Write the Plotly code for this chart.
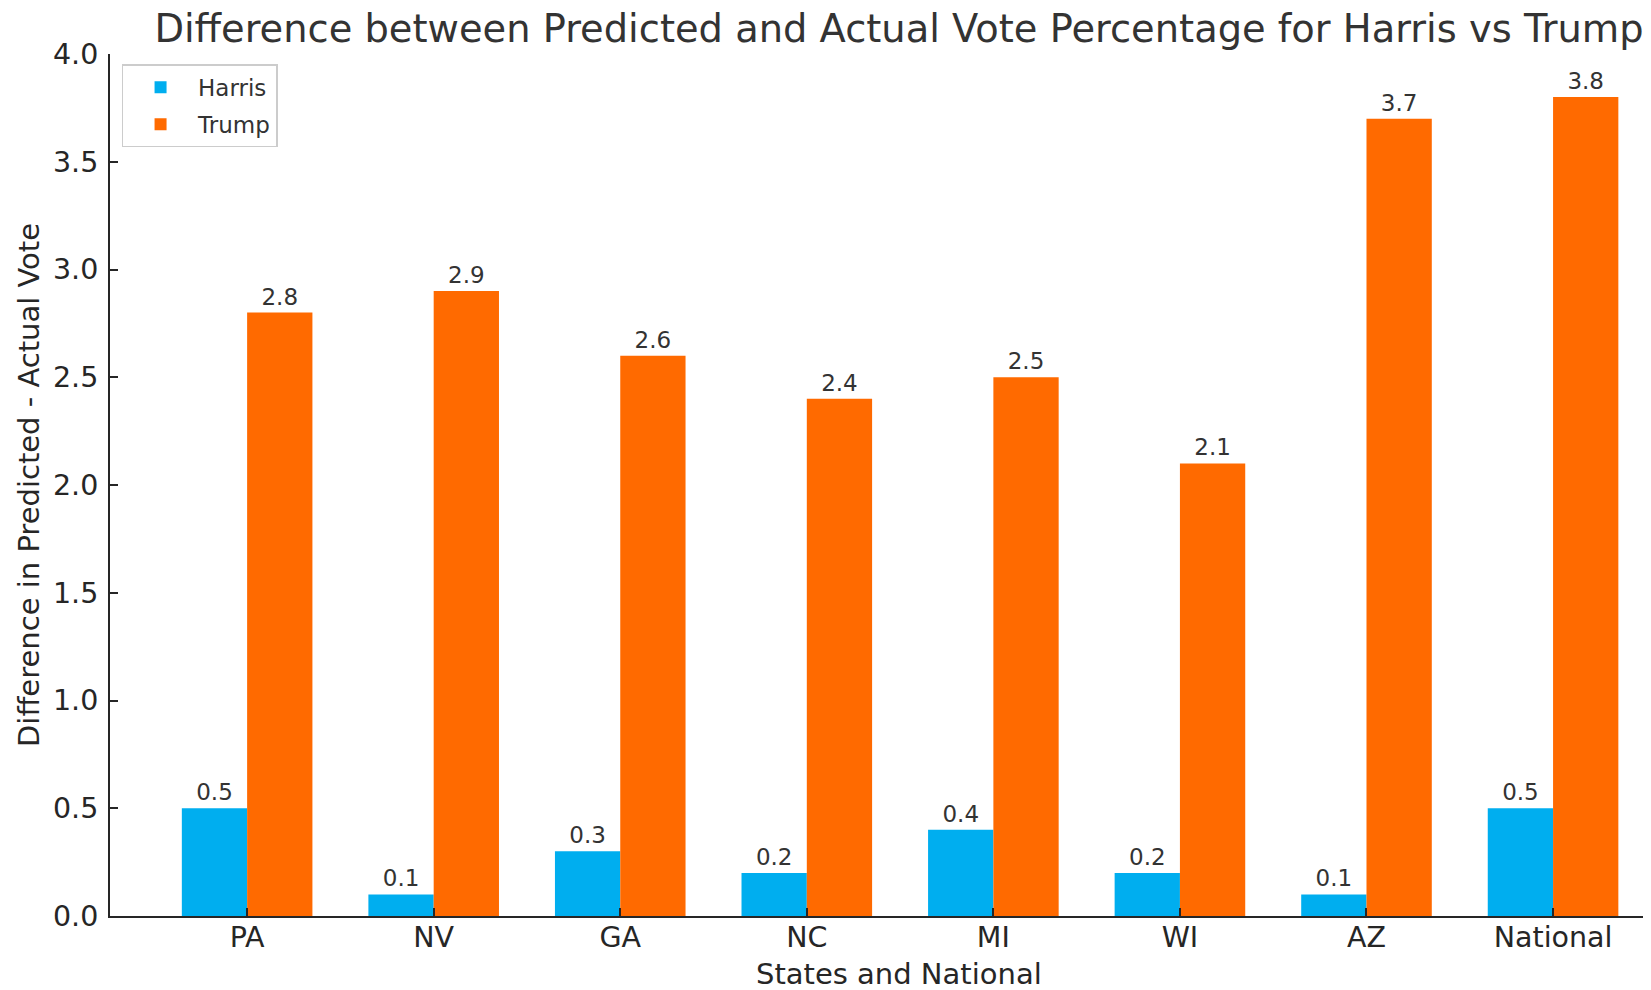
import plotly.graph_objects as go

categories = ["PA", "NV", "GA", "NC", "MI", "WI", "AZ", "National"]
harris_diff = [0.5, 0.1, 0.3, 0.2, 0.4, 0.2, 0.1, 0.5]
trump_diff = [2.8, 2.9, 2.6, 2.4, 2.5, 2.1, 3.7, 3.8]
y_ticks = [0.0, 0.5, 1.0, 1.5, 2.0, 2.5, 3.0, 3.5, 4.0]

x_title = "States and National"
y_title = "Difference in Predicted - Actual Vote"
chart_title = "Difference between Predicted and Actual Vote Percentage for Harris vs Trump"

FONT = "DejaVu Sans"
TXT = "#262626"

# page body has an 8px margin, so the figure is sized to fill the rest of the window
W, H = 1643, 982
L, T, B = 102, 46, 74
PW = W - L
PH = H - T - B

fig = go.Figure()
fig.add_trace(go.Bar(
    x=categories, y=harris_diff, name="Harris", legendgroup="h",
    marker=dict(color="#00aeef", line=dict(width=0)),
    texttemplate="%{y:.1f}", textposition="outside", constraintext="none",
    textfont=dict(family=FONT, size=23, color="#333333"),
    cliponaxis=False,
))
fig.add_trace(go.Bar(
    x=categories, y=trump_diff, name="Trump", legendgroup="t",
    marker=dict(color="#ff6a00", line=dict(width=0)),
    texttemplate="%{y:.1f}", textposition="outside", constraintext="none",
    textfont=dict(family=FONT, size=23, color="#333333"),
    cliponaxis=False,
))

fig.update_layout(
    width=W, height=H,
    paper_bgcolor="white", plot_bgcolor="white",
    barmode="group", bargap=0.3, bargroupgap=0.0,
    margin=dict(l=L, r=0, t=T, b=B, autoexpand=False),
    font=dict(family=FONT, color=TXT),
    title=dict(
        text=chart_title,
        font=dict(family=FONT, size=38.4, color="#333333"),
        x=891 / W, xanchor="center", xref="container",
        y=1 - 21 / H, yanchor="middle", yref="container",
    ),
    legend=dict(
        x=0.0075, y=0.988, xanchor="left", yanchor="top",
        bgcolor="rgba(255,255,255,0.8)", bordercolor="#cccccc", borderwidth=1.5,
        font=dict(family=FONT, size=23, color="#333333"),
        itemwidth=65, tracegroupgap=4,
    ),
    showlegend=True,
    annotations=[
        dict(text=x_title, xref="paper", yref="paper",
             x=(891 - L) / PW, y=-(966 - (T + PH)) / PH,
             xanchor="center", yanchor="middle", showarrow=False,
             font=dict(family=FONT, size=29, color=TXT)),
        dict(text=y_title, xref="paper", yref="paper", textangle=-90,
             x=(21 - L) / PW, y=0.5,
             xanchor="center", yanchor="middle", showarrow=False,
             font=dict(family=FONT, size=29, color=TXT)),
    ],
)

fig.update_xaxes(
    type="category", range=[-0.735, 7.525], automargin=False,
    showline=True, linecolor=TXT, linewidth=2, mirror=False,
    ticks="inside", ticklen=8, tickwidth=2, tickcolor=TXT,
    tickfont=dict(family=FONT, size=28.5, color=TXT),
    ticklabelstandoff=-5,
    showgrid=False, zeroline=False,
)
fig.update_yaxes(
    range=[0, 4.0], tickvals=y_ticks, tickformat=".1f", automargin=False,
    showline=True, linecolor=TXT, linewidth=2, mirror=False,
    ticks="inside", ticklen=8, tickwidth=2, tickcolor=TXT,
    tickfont=dict(family=FONT, size=28.5, color=TXT),
    ticklabelstandoff=4,
    showgrid=False, zeroline=False,
)

fig.write_html("out.html")
